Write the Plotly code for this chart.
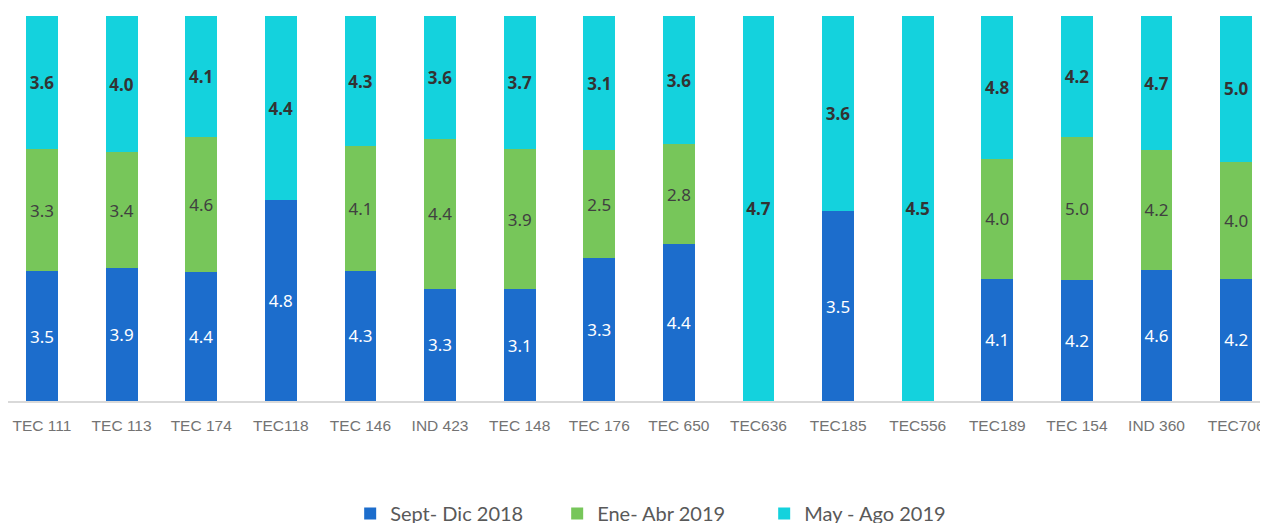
import plotly.graph_objects as go

categories = ["TEC 111", "TEC 113", "TEC 174", "TEC118", "TEC 146", "IND 423", "TEC 148", "TEC 176",
              "TEC 650", "TEC636", "TEC185", "TEC556", "TEC189", "TEC 154", "IND 360", "TEC706"]
sept_dic_2018 = [3.5, 3.9, 4.4, 4.8, 4.3, 3.3, 3.1, 3.3, 4.4, None, 3.5, None, 4.1, 4.2, 4.6, 4.2]
ene_abr_2019 = [3.3, 3.4, 4.6, None, 4.1, 4.4, 3.9, 2.5, 2.8, None, None, None, 4.0, 5.0, 4.2, 4.0]
may_ago_2019 = [3.6, 4.0, 4.1, 4.4, 4.3, 3.6, 3.7, 3.1, 3.6, 4.7, 3.6, 4.5, 4.8, 4.2, 4.7, 5.0]
series_names = ["Sept- Dic 2018", "Ene- Abr 2019", "May - Ago 2019"]


def labels(vals):
    return ["" if v is None else f"{v:.1f}" for v in vals]


specs = [
    (sept_dic_2018, series_names[0], "#1c6dcc", "#ffffff", "normal"),
    (ene_abr_2019, series_names[1], "#77c65a", "#404040", "normal"),
    (may_ago_2019, series_names[2], "#14d2dd", "#333333", "bold"),
]

fig = go.Figure()
for vals, name, color, tcolor, weight in specs:
    fig.add_trace(go.Bar(
        x=categories, y=vals, name=name,
        marker=dict(color=color, line=dict(width=0)),
        text=labels(vals), textposition="inside", insidetextanchor="middle",
        textangle=0, constraintext="none",
        textfont=dict(family="Noto Sans", size=17, color=tcolor, weight=weight),
        width=0.4, hoverinfo="skip",
    ))

fig.update_layout(
    barmode="stack", barnorm="percent",
    width=1268, height=525,
    margin=dict(l=0, r=8, t=8, b=132),
    paper_bgcolor="white", plot_bgcolor="white",
    showlegend=True,
    legend=dict(orientation="h", x=0.518, xanchor="center", y=0, yref="container", yanchor="bottom",
                traceorder="normal", font=dict(family="Lato", size=20, color="#595959"),
                itemwidth=30, entrywidth=162, entrywidthmode="pixels", tracegroupgap=0),
)
fig.update_xaxes(
    range=[-0.427, 15.40], showgrid=False, showline=True, linecolor="#d9d9d9", linewidth=1.5,
    ticks="", tickfont=dict(family="Liberation Sans", size=15.5, color="#737373"),
    ticklabelstandoff=10,
)
fig.update_yaxes(range=[0, 100], showgrid=False, showticklabels=False, zeroline=False, showline=False)

fig.write_html("out.html")
